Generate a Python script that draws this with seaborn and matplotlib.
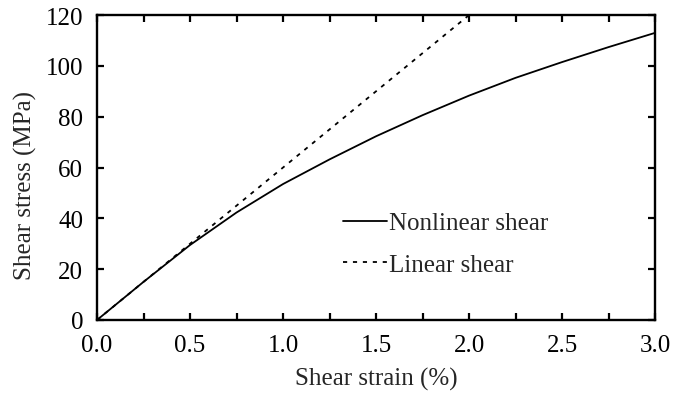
import matplotlib
matplotlib.use("Agg")
import matplotlib.pyplot as plt
from matplotlib.ticker import MultipleLocator
import seaborn as sns
import pandas as pd

# Data
strain_nl = [0.0, 0.25, 0.5, 0.75, 1.0, 1.25, 1.5, 1.75, 2.0, 2.25, 2.5, 2.75, 3.0]
stress_nl = [0.0, 15.0, 29.5, 42.3, 53.5, 63.2, 72.3, 80.6, 88.3, 95.3, 101.5, 107.4, 113.0]
strain_lin = [0.0, 2.0]
stress_lin = [0.0, 120.0]
x_ticks = [0.0, 0.5, 1.0, 1.5, 2.0, 2.5, 3.0]
y_ticks = [0, 20, 40, 60, 80, 100, 120]
series_names = ["Nonlinear shear", "Linear shear"]

sns.set_style("ticks")
plt.rcParams["font.family"] = ["Liberation Serif", "DejaVu Serif"]

FS = 18

fig = plt.figure(figsize=(6.76, 4.02), dpi=100)
ax = fig.add_axes([0.1435, 0.2015, 0.969 - 0.1435, 0.960 - 0.2015])

df_nl = pd.DataFrame({"strain": strain_nl, "stress": stress_nl})
df_lin = pd.DataFrame({"strain": strain_lin, "stress": stress_lin})

sns.lineplot(data=df_nl, x="strain", y="stress", ax=ax, color="black",
             linewidth=1.3, label=series_names[0])
sns.lineplot(data=df_lin, x="strain", y="stress", ax=ax, color="black",
             linewidth=1.3, linestyle=(0, (2.3, 3.2)), label=series_names[1])

ax.set_xlim(0, 3.0)
ax.set_ylim(0, 120)
ax.set_xticks(x_ticks)
ax.set_xticklabels([f"{v:.1f}" for v in x_ticks])
ax.set_yticks(y_ticks)
ax.set_yticklabels([str(v) for v in y_ticks])
ax.xaxis.set_minor_locator(MultipleLocator(0.25))

for s in ax.spines.values():
    s.set_visible(True)
    s.set_linewidth(1.7)
    s.set_color("black")

ax.tick_params(which="both", direction="in", top=True, right=True,
               length=5, width=1.6, labelsize=FS, colors="black")
ax.tick_params(axis="x", which="both", pad=10)
ax.tick_params(axis="y", which="both", pad=10)

ax.set_xlabel("Shear strain (%)", fontsize=FS, labelpad=8)
ax.set_ylabel("Shear stress (MPa)", fontsize=FS)
ax.yaxis.set_label_coords(-0.108, 0.446)

ax.legend(loc="upper left", bbox_to_anchor=(0.441, 0.355), frameon=False,
          fontsize=FS, handlelength=1.75, handletextpad=0.1, borderpad=0,
          labelspacing=0.75, borderaxespad=0)

fig.savefig("out.png", dpi=100, facecolor="white")
